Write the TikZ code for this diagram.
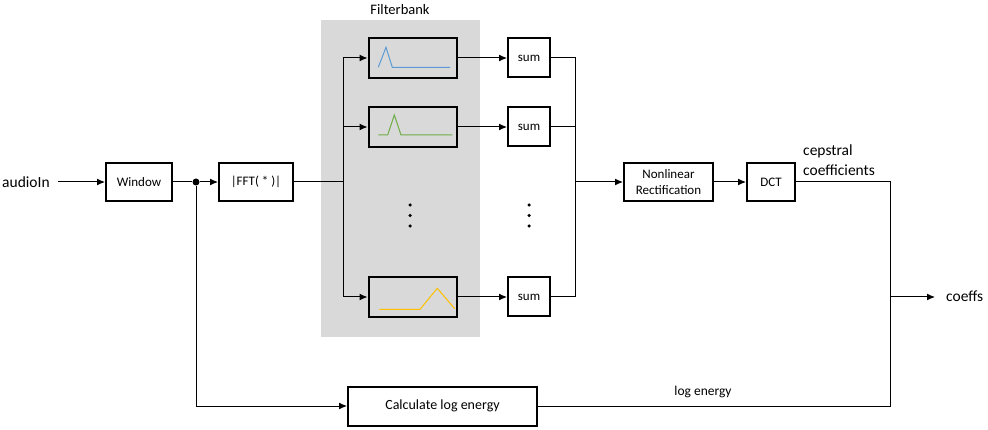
\documentclass[tikz,border=0pt]{standalone}
\usepackage{fontspec}
\setmainfont{Carlito}
\usetikzlibrary{arrows.meta}
\definecolor{fbgray}{HTML}{D9D9D9}
\definecolor{cblue}{HTML}{5B9BD5}
\definecolor{cgreen}{HTML}{70AD47}
\definecolor{cyellow}{HTML}{FFC000}
\begin{document}
\begin{tikzpicture}[x=1pt,y=-1pt,
  blk/.style={draw,line width=2pt,inner sep=0pt,font=\fontsize{13}{16}\selectfont,align=center},
  conn/.style={line width=1pt},
  arr/.style={line width=1pt,-{Latex[length=8pt,width=7pt]}},
  lbl/.style={font=\fontsize{15.5}{20}\selectfont,inner sep=0pt},
  dotc/.style={circle,fill,inner sep=0pt,minimum size=3.5pt}]
\useasboundingbox (0,0) rectangle (988,430);
\fill[fbgray] (321,20) rectangle (480,337);
\node[font=\fontsize{14.5}{17}\selectfont,inner sep=0pt] (fbl) at (400,10) {Filterbank};
% nodes
\node[lbl,anchor=west] (in) at (2,182) {audioIn};
\node[blk,minimum width=66pt,minimum height=38pt] (win) at (139,182) {Window};
\node[circle,fill,inner sep=0pt,minimum size=7pt] (dot) at (196,182) {};
\node[blk,minimum width=74pt,minimum height=38pt] (fft) at (256,182) {|FFT( * )|};
\node[blk,minimum width=88pt,minimum height=40pt] (f1) at (412.5,58) {};
\node[blk,minimum width=88pt,minimum height=40pt] (f2) at (412.5,127) {};
\node[blk,minimum width=88pt,minimum height=40pt] (f3) at (412.5,297) {};
\node[blk,minimum width=42pt,minimum height=39pt] (s1) at (529,58) {sum};
\node[blk,minimum width=42pt,minimum height=39pt] (s2) at (529,127) {sum};
\node[blk,minimum width=42pt,minimum height=39pt] (s3) at (529,297) {sum};
\node[blk,minimum width=89pt,minimum height=38pt] (nl) at (668.5,182) {Nonlinear\\Rectification};
\node[blk,minimum width=48pt,minimum height=38pt] (dct) at (771,182) {DCT};
\node[blk,minimum width=189pt,minimum height=39pt,font=\fontsize{14}{17}\selectfont] (le) at (442.5,406) {Calculate log energy};
\node[lbl,anchor=west,align=left] (cep) at (803,160.5) {cepstral\\coefficients};
\node[lbl,anchor=west] (co) at (946,296) {coeffs};
\node[font=\fontsize{13.5}{16}\selectfont,inner sep=0pt] (lel) at (703,392) {log energy};
% dots
\foreach \x in {410,529}{
  \node[dotc] at (\x,205) {};
  \node[dotc] at (\x,215.5) {};
  \node[dotc] at (\x,226) {};
}
% filter curves
\draw[cblue,line width=1pt] (378.3,67.3) -- (386,47.3) -- (392.3,67.3) -- (450,67.3);
\draw[cgreen,line width=1pt] (378.3,135) -- (387.7,135) -- (394.3,115) -- (401,135) -- (452.3,135);
\draw[cyellow,line width=1pt] (379.3,309.3) -- (420,309.3) -- (437.3,288.3) -- (454.7,308.7);
% coordinates
\coordinate (inr) at (58,182);
\coordinate (sp) at (343,182);
\coordinate (sp1) at (343,58);
\coordinate (sp2) at (343,127);
\coordinate (sp3) at (343,297);
\coordinate (m) at (575,182);
\coordinate (m1) at (575,58);
\coordinate (m3) at (575,297);
\coordinate (o) at (890,182);
\coordinate (o2) at (890,297);
\coordinate (o3) at (890,406);
\coordinate (cot) at (935,297);
\coordinate (db) at (196,406);
% connectors
\draw[arr] (inr) -- (win.west);
\draw[conn] (win.east) -- (dot);
\draw[arr] (dot) -- (fft.west);
\draw[conn] (fft.east) -- (sp);
\draw[conn] (sp1) -- (sp3);
\draw[arr] (sp1) -- (f1.west);
\draw[arr] (sp2) -- (f2.west);
\draw[arr] (sp3) -- (f3.west);
\draw[arr] (f1.east) -- (s1.west);
\draw[arr] (f2.east) -- (s2.west);
\draw[arr] (f3.east) -- (s3.west);
\draw[conn] (s1.east) -- (m1) -- (m3) -- (s3.east);
\draw[conn] (s2.east) -- (s2.east -| m);
\draw[arr] (m) -- (nl.west);
\draw[arr] (nl.east) -- (dct.west);
\draw[conn] (dct.east) -- (o) -- (o3) -- (le.east);
\draw[arr] (o2) -- (cot);
\draw[arr] (dot) -- (db) -- (le.west);
\end{tikzpicture}
\end{document}
